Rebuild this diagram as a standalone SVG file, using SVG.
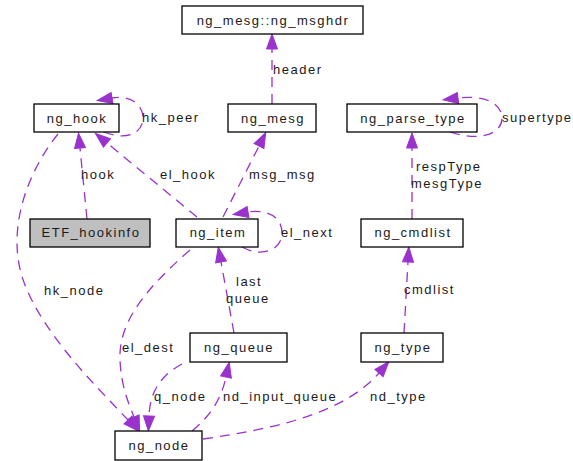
<svg xmlns="http://www.w3.org/2000/svg" width="573" height="461" viewBox="0 0 573 461">
  <defs>
    <marker id="arrow" markerUnits="userSpaceOnUse" markerWidth="16" markerHeight="12" refX="0" refY="5.5" orient="auto" overflow="visible">
      <path d="M0,0 L15,5.5 L0,11 z" fill="#9a32cd" stroke="#9a32cd" stroke-width="1"/>
    </marker>
  </defs>
  <style>
    .node rect { fill: #ffffff; stroke: #000000; stroke-width: 1.3; }
    .node.grey rect { fill: #bfbfbf; }
    .node text, .label { font-family: "Liberation Sans", Arial, Helvetica, sans-serif; font-size: 13px; letter-spacing: 1.5px; fill: #1a1a1a; }
    .node text { text-anchor: middle; }
    .edges path { fill: none; stroke: #9a32cd; stroke-width: 1.3; stroke-dasharray: 10,7; marker-end: url(#arrow); }
  </style>
  <rect width="573" height="461" fill="#ffffff"/>

  <!-- connectors -->
  <g id="edges" class="edges">
    <path d="M272,104 L272,49"/>
    <path d="M104,132 C130,142 143,131 143,118 C143,104 130,95 112,98"/>
    <path d="M87,219 L80,148"/>
    <path d="M197,217 L107,143"/>
    <path d="M58,134 C25,175 5,235 25,285 C45,335 90,380 128,420"/>
    <path d="M223,217 L259,146"/>
    <path d="M242,247 C262,258 282,250 282,233 C282,216 266,209 248,212"/>
    <path d="M234,333 L221,262"/>
    <path d="M190,250 C150,285 118,320 120,360 C121,385 128,402 134,417"/>
    <path d="M182,364 C160,376 150,392 149,416"/>
    <path d="M192,431 C210,416 221,400 226,377"/>
    <path d="M203,439 C280,428 345,412 379,373"/>
    <path d="M404,333 L408,262"/>
    <path d="M412,219 L412,148"/>
    <path d="M450,132 C480,142 502,134 502,118 C502,102 482,95 458,98"/>
  </g>

  <!-- connector labels -->
  <g id="edge-labels">
    <text class="label" x="273" y="74">header</text>
    <text class="label" x="142" y="122">hk_peer</text>
    <text class="label" x="502" y="122">supertype</text>
    <text class="label" x="81" y="179">hook</text>
    <text class="label" x="160" y="179">el_hook</text>
    <text class="label" x="249" y="179">msg_msg</text>
    <text class="label" x="416" y="171">respType</text>
    <text class="label" x="411" y="188">mesgType</text>
    <text class="label" x="281" y="237">el_next</text>
    <text class="label" x="44" y="295">hk_node</text>
    <text class="label" x="236" y="286">last</text>
    <text class="label" x="226" y="303">queue</text>
    <text class="label" x="404" y="294">cmdlist</text>
    <text class="label" x="122" y="352">el_dest</text>
    <text class="label" x="154" y="401">q_node</text>
    <text class="label" x="223" y="401">nd_input_queue</text>
    <text class="label" x="370" y="401">nd_type</text>
  </g>

  <!-- nodes -->
  <g id="ng_msghdr" class="node"><rect x="182" y="6" width="181" height="28"/><text x="273" y="24.5">ng_mesg::ng_msghdr</text></g>
  <g id="ng_hook" class="node"><rect x="34" y="104" width="85" height="28"/><text x="77" y="122.5">ng_hook</text></g>
  <g id="ng_mesg" class="node"><rect x="228" y="104" width="88" height="28"/><text x="273" y="122.5">ng_mesg</text></g>
  <g id="ng_parse_type" class="node"><rect x="347" y="104" width="130" height="28"/><text x="413" y="122.5">ng_parse_type</text></g>
  <g id="ETF_hookinfo" class="node grey"><rect x="30" y="219" width="120" height="28"/><text x="91" y="237">ETF_hookinfo</text></g>
  <g id="ng_item" class="node"><rect x="176" y="219" width="82" height="28"/><text x="218" y="237">ng_item</text></g>
  <g id="ng_cmdlist" class="node"><rect x="361" y="219" width="102" height="28"/><text x="413" y="237">ng_cmdlist</text></g>
  <g id="ng_queue" class="node"><rect x="190" y="333" width="97" height="29"/><text x="239" y="351.5">ng_queue</text></g>
  <g id="ng_type" class="node"><rect x="361" y="333" width="82" height="29"/><text x="403" y="351.5">ng_type</text></g>
  <g id="ng_node" class="node"><rect x="115" y="431" width="87" height="29"/><text x="159" y="449.5">ng_node</text></g>
</svg>
